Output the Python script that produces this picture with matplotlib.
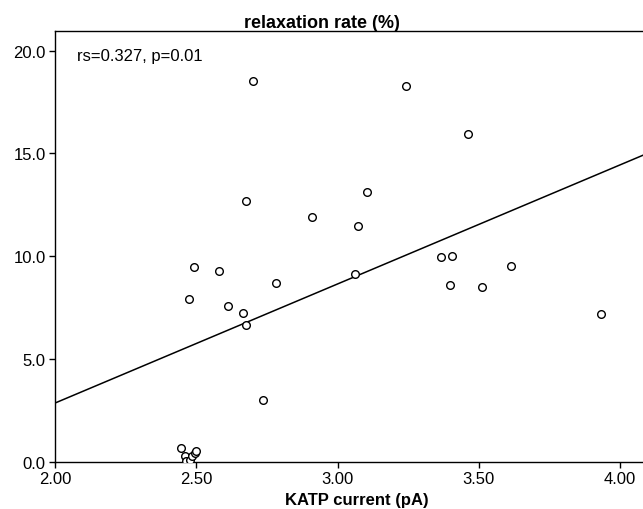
import matplotlib.pyplot as plt
from matplotlib.ticker import FormatStrFormatter

plt.rcParams['font.family'] = ['Liberation Sans', 'DejaVu Sans']

# KATP current (pA) vs relaxation rate (%)
katp = [2.699, 3.241, 3.462, 3.106, 2.676, 2.910, 3.072, 2.490, 2.579, 2.782,
        2.474, 2.611, 2.664, 2.677, 2.735, 3.062, 3.365, 3.405, 3.613, 3.398,
        3.513, 3.932, 2.445, 2.459, 2.463, 2.477, 2.485, 2.494, 2.498]
relax = [18.51, 18.27, 15.96, 13.12, 12.67, 11.89, 11.46, 9.49, 9.27, 8.68,
         7.92, 7.58, 7.22, 6.65, 2.99, 9.13, 9.96, 9.99, 9.52, 8.60,
         8.49, 7.19, 0.68, 0.29, 0.05, 0.10, 0.26, 0.42, 0.51]

# fit line
fit_x0, fit_y0 = 2.0, 2.86
fit_slope = 5.79

fig = plt.figure(figsize=(6.43, 5.10), dpi=100)
ax = fig.add_axes([55.3 / 643, 47.3 / 510, 587.7 / 643, 430.7 / 510])

ax.plot(katp, relax, 'o', mfc='white', mec='black', ms=5.5, mew=1.0, zorder=3)
ax.axline((fit_x0, fit_y0), slope=fit_slope, color='black', lw=1.1)

ax.set_xlim(2.0, 4.082)
ax.set_ylim(0, 20.96)
ax.set_xticks([2.0, 2.5, 3.0, 3.5, 4.0])
ax.set_yticks([0, 5, 10, 15, 20])
ax.xaxis.set_major_formatter(FormatStrFormatter('%.2f'))
ax.yaxis.set_major_formatter(FormatStrFormatter('%.1f'))
ax.tick_params(labelsize=12, length=4.5, width=1, direction='out')
ax.tick_params(axis='x', pad=2.5)
ax.tick_params(axis='y', pad=2.5)
ax.spines['right'].set_visible(False)
for s in ['left', 'bottom', 'top']:
    ax.spines[s].set_linewidth(1.0)

ax.set_title('relaxation rate (%)', fontsize=13, fontweight='bold', x=0.454, pad=2)
ax.set_xlabel('KATP current (pA)', fontsize=12, fontweight='bold')
ax.xaxis.set_label_coords(0.513, -0.071)
ax.text(0.037, 0.961, 'rs=0.327, p=0.01', transform=ax.transAxes,
        fontsize=12, va='top', ha='left')

fig.savefig('out.png', dpi=100)
